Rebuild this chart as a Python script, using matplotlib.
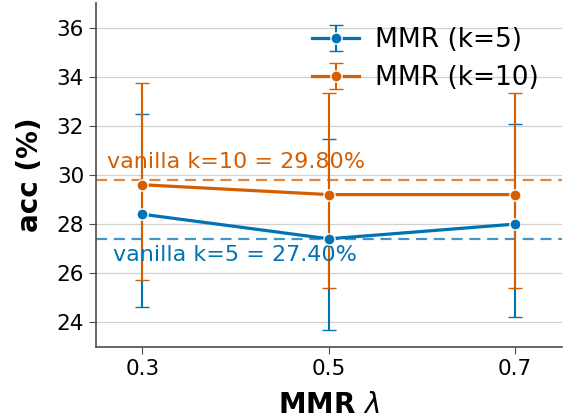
import numpy as np
import matplotlib.pyplot as plt

# data
lambdas = [0.3, 0.5, 0.7]
acc_k5 = [28.4, 27.4, 28.0]
low_k5 = [24.61, 23.67, 24.22]
high_k5 = [32.50, 31.48, 32.09]
acc_k10 = [29.6, 29.2, 29.2]
low_k10 = [25.74, 25.38, 25.38]
high_k10 = [33.74, 33.33, 33.32]
vanilla_k5 = 27.40
vanilla_k10 = 29.80

blue = '#0173b2'
orange = '#d55e00'

fig = plt.figure(figsize=(5.64, 4.19), dpi=100)
ax = fig.add_axes([0.170, 0.172, 0.826, 0.821])

# horizontal grid behind everything
ax.grid(axis='y', color='0.82', linewidth=0.9)
ax.set_axisbelow(True)

err5 = [np.array(acc_k5) - np.array(low_k5), np.array(high_k5) - np.array(acc_k5)]
err10 = [np.array(acc_k10) - np.array(low_k10), np.array(high_k10) - np.array(acc_k10)]

ax.errorbar(lambdas, acc_k5, yerr=err5, color=blue, linewidth=2.3, marker='o',
            markersize=8, markeredgecolor='white', markeredgewidth=1.0,
            elinewidth=1.5, capsize=5, capthick=1.5, label='MMR (k=5)', zorder=3)
ax.errorbar(lambdas, acc_k10, yerr=err10, color=orange, linewidth=2.3, marker='o',
            markersize=8, markeredgecolor='white', markeredgewidth=1.0,
            elinewidth=1.5, capsize=5, capthick=1.5, label='MMR (k=10)', zorder=3)

# vanilla baselines
ax.axhline(vanilla_k5, color=blue, linestyle='--', linewidth=1.6, alpha=0.75,
           dashes=(5, 3), zorder=2)
ax.axhline(vanilla_k10, color=orange, linestyle='--', linewidth=1.6, alpha=0.75,
           dashes=(5, 3), zorder=2)
ax.text(0.262, vanilla_k10 + 0.3, 'vanilla k=10 = %.2f%%' % vanilla_k10,
        color=orange, fontsize=16, ha='left', va='bottom')
ax.text(0.268, vanilla_k5 - 0.25, 'vanilla k=5 = %.2f%%' % vanilla_k5,
        color=blue, fontsize=16, ha='left', va='top')

ax.set_xlim(0.25, 0.75)
ax.set_ylim(23, 37)
ax.set_xticks(lambdas)
ax.set_xticklabels(['0.3', '0.5', '0.7'])
ax.set_yticks([24, 26, 28, 30, 32, 34, 36])
ax.tick_params(labelsize=15.5, length=5, color='0.3')

for s in ['top', 'right']:
    ax.spines[s].set_visible(False)
for s in ['left', 'bottom']:
    ax.spines[s].set_color('0.3')
    ax.spines[s].set_linewidth(1.2)

ax.set_xlabel(r'MMR $\lambda$', fontsize=20, fontweight='bold', labelpad=9)
ax.set_ylabel('acc (%)', fontsize=20, fontweight='bold', labelpad=9)

ax.legend(loc='upper right', bbox_to_anchor=(0.968, 0.952), fontsize=19,
          frameon=False, borderaxespad=0, borderpad=0.3, handlelength=1.8,
          handletextpad=0.6, labelspacing=0.45)

plt.savefig('out.png', dpi=100)
